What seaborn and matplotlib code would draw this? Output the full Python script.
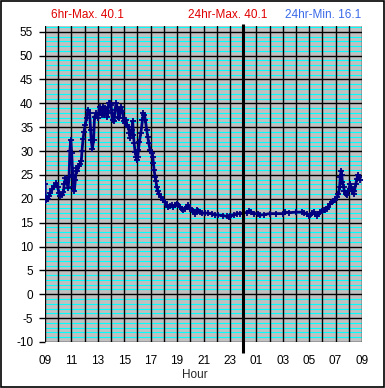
import matplotlib
matplotlib.use("Agg")
import matplotlib.pyplot as plt
import seaborn as sns
import pandas as pd
from matplotlib.patches import Rectangle

# ---- data (hours since 09:00 start, continuous 9..33) ----
hours = [9.00, 9.03, 9.10, 9.20, 9.30, 9.40, 9.55, 9.70, 9.85, 9.95,
         10.05, 10.15, 10.30, 10.40, 10.45, 10.55, 10.65, 10.75, 10.82, 10.88,
         10.95, 11.02, 11.10, 11.15, 11.22, 11.30, 11.38, 11.45, 11.55, 11.65,
         11.75, 11.80, 11.88, 11.95, 12.05, 12.15, 12.25, 12.38, 12.45, 12.50,
         12.58, 12.68, 12.75, 12.88, 13.00, 13.13, 13.20, 13.25, 13.30, 13.37,
         13.47, 13.55, 13.68, 13.73, 13.80, 13.88, 13.93, 14.00, 14.05, 14.13,
         14.23, 14.30, 14.38, 14.48, 14.56, 14.63, 14.68, 14.76, 14.86, 14.94,
         15.01, 15.06, 15.14, 15.19, 15.32, 15.39, 15.44, 15.57, 15.64, 15.70,
         15.75, 15.82, 15.90, 15.95, 16.02, 16.07, 16.15, 16.25, 16.38, 16.45,
         16.53, 16.60, 16.70, 16.78, 16.86, 16.96, 17.08, 17.16, 17.21, 17.26,
         17.34, 17.40, 17.46, 17.53, 17.63, 17.79, 17.96, 18.09, 18.21, 18.34,
         18.47, 18.60, 18.72, 18.85, 18.97, 19.10, 19.23, 19.35, 19.48, 19.60,
         19.73, 19.86, 19.98, 20.11, 20.24, 20.36, 20.49, 20.62, 20.74, 20.87,
         21.12, 21.37, 21.62, 21.88, 22.10, 22.50, 22.76, 22.90, 23.00, 23.30,
         23.52, 23.80, 24.03, 24.30, 24.45, 24.60, 24.80, 25.10, 25.29, 25.60,
         26.00, 26.50, 27.00, 27.18, 27.50, 28.00, 28.44, 28.60, 28.80, 28.95,
         29.07, 29.20, 29.33, 29.45, 29.58, 29.70, 29.83, 29.96, 30.09, 30.21,
         30.34, 30.46, 30.59, 30.72, 30.84, 30.97, 31.09, 31.22, 31.30, 31.35,
         31.42, 31.47, 31.52, 31.60, 31.67, 31.77, 31.85, 31.97, 32.10, 32.18,
         32.28, 32.36, 32.43, 32.53, 32.61, 32.69, 32.79, 32.86]
temps = [23.0, 19.6, 19.7, 20.0, 20.5, 21.2, 22.0, 22.6, 23.3, 22.5,
         21.3, 20.6, 20.7, 21.5, 23.0, 24.4, 23.5, 22.3, 24.5, 30.0,
         32.3, 29.5, 25.0, 22.5, 21.6, 24.0, 26.5, 25.8, 26.8, 27.3,
         28.0, 30.0, 32.5, 34.0, 35.5, 36.9, 38.6, 37.9, 34.5, 32.3,
         30.5, 32.3, 37.2, 37.9, 36.9, 39.3, 38.0, 37.9, 37.5, 39.3,
         37.5, 39.0, 38.3, 37.2, 39.3, 40.0, 40.1, 39.6, 37.9, 36.5,
         36.2, 38.6, 40.0, 39.0, 37.2, 36.9, 38.6, 39.3, 38.3, 36.9,
         36.2, 35.8, 36.5, 35.5, 35.1, 33.7, 32.7, 34.4, 36.2, 33.4,
         31.6, 29.9, 28.8, 28.1, 28.8, 30.2, 32.0, 33.7, 36.5, 37.9,
         37.6, 36.5, 34.4, 33.0, 31.6, 30.2, 29.5, 28.8, 27.4, 26.0,
         24.6, 23.8, 22.4, 21.7, 21.0, 20.3, 19.7, 19.3, 18.6, 18.3,
         18.4, 18.6, 18.3, 18.6, 19.0, 18.6, 18.3, 17.9, 17.7, 17.9,
         18.3, 18.6, 17.9, 17.6, 17.4, 16.9, 17.7, 17.4, 17.2, 17.0,
         17.0, 17.0, 16.9, 16.7, 16.6, 16.5, 16.3, 16.1, 16.5, 16.7,
         16.9, 16.9, 17.1, 17.1, 17.4, 17.2, 16.9, 16.9, 16.6, 16.7,
         16.9, 16.9, 16.9, 17.2, 17.1, 17.2, 17.2, 17.1, 16.9, 16.5,
         16.7, 17.0, 17.2, 16.9, 16.5, 16.8, 17.2, 17.4, 17.6, 17.6,
         17.9, 18.3, 19.0, 19.3, 19.5, 19.7, 20.3, 21.0, 22.4, 24.5,
         25.9, 24.9, 23.5, 22.4, 21.7, 21.0, 20.7, 21.7, 23.1, 22.4,
         21.7, 21.0, 21.7, 23.1, 24.2, 24.9, 24.5, 24.0]

y_ticks = [-10, -5, 0, 5, 10, 15, 20, 25, 30, 35, 40, 45, 50, 55]
x_ticks = [9, 11, 13, 15, 17, 19, 21, 23, 25, 27, 29, 31, 33]
x_ticklabels = ["09", "11", "13", "15", "17", "19", "21", "23", "01", "03", "05", "07", "09"]
header_texts = ["6hr-Max. 40.1", "24hr-Max. 40.1", "24hr-Min. 16.1"]
header_colors = ["#e00000", "#e00000", "#3a6ae8"]

df = pd.DataFrame({"hour": hours, "temp": temps})

sns.set_theme(style="white")
plt.rcParams["font.family"] = ["Liberation Sans", "DejaVu Sans"]

fig = plt.figure(figsize=(3.85, 3.88), dpi=100)
ax = fig.add_axes([45 / 385, 1 - 342 / 388, 317 / 385, 316 / 388])
ax.set_facecolor("#c0c0c0")

ax.set_xlim(9, 33)
ax.set_ylim(-10, 56.2)

# minor cyan lines every 1 unit
for v in range(-10, 57):
    if v % 5 == 0:
        continue
    ax.axhline(v, color="#00ffff", lw=0.8, zorder=1)
# black major grid
for v in y_ticks:
    ax.axhline(v, color="black", lw=1.0, zorder=2)
for h in range(9, 34):
    ax.axvline(h, color="black", lw=1.0, zorder=2)

sns.lineplot(data=df, x="hour", y="temp", ax=ax, color="#000080",
             lw=2.0, marker="+", markersize=5, markeredgewidth=1.3,
             markeredgecolor="#000080", zorder=4)

# midnight line extending a little beyond the axes
ax.plot([24, 24], [-12.2, 56.6], color="black", lw=2.2, clip_on=False,
        solid_capstyle="butt", zorder=5)

ax.set_yticks(y_ticks)
ax.set_yticklabels([str(v) for v in y_ticks])
ax.set_xticks(x_ticks)
ax.set_xticklabels(x_ticklabels)
ax.tick_params(axis="y", length=4, width=1, color="black", pad=4.5,
               labelsize=8.5, labelcolor="black", left=True)
ax.tick_params(axis="x", length=0, pad=9, labelsize=8.5, labelcolor="black")
ax.set_xlabel("")
ax.set_ylabel("")
for s in ax.spines.values():
    s.set_visible(False)

fig.text(195 / 385, 1 - 375 / 388, "Hour", ha="center", va="center", fontsize=8.5)

xs = [87 / 385, 228 / 385, 323 / 385]
for t, c, x in zip(header_texts, header_colors, xs):
    fig.text(x, 1 - 15.5 / 388, t, ha="center", va="center", color=c, fontsize=8.5)

fig.patches.append(Rectangle((0.5 / 385, 1.5 / 388), 383 / 385, 386 / 388,
                             transform=fig.transFigure, fill=False,
                             edgecolor="black", lw=1.2))

fig.savefig("out.png", dpi=100, facecolor="white")
